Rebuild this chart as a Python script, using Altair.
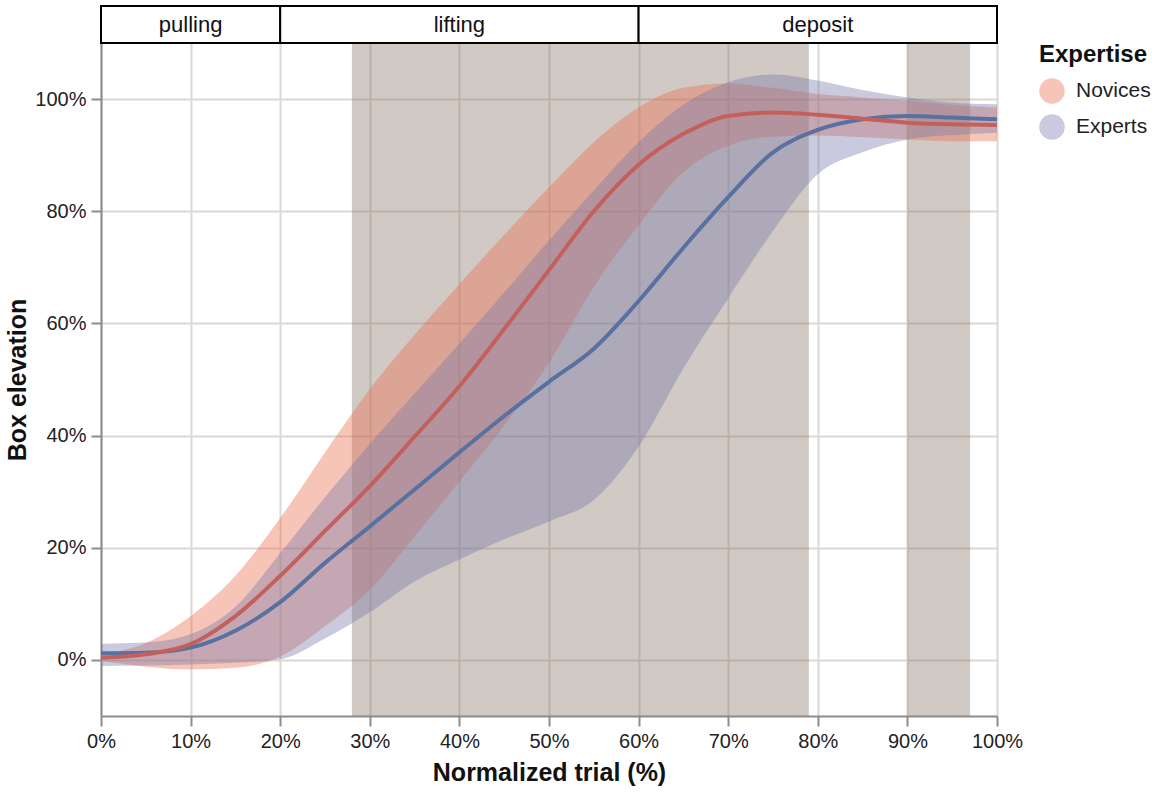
import altair as alt
import pandas as pd

# ---------------- data ----------------
x_pct = [0, 5, 10, 15, 20, 25, 30, 35, 40, 45, 50, 55, 60, 65, 70, 75, 80, 85, 90, 95, 100]

nov_mean = [0.4, 1.0, 2.8, 7.8, 15.0, 23.0, 31.0, 39.8, 48.8, 59.0, 69.5, 80.0, 88.3, 93.8, 97.0, 97.6, 97.2, 96.5, 95.8, 95.5, 95.4]
nov_hi   = [0.9, 3.0, 7.8, 15.0, 25.3, 37.0, 48.3, 58.0, 67.0, 75.8, 84.3, 92.3, 98.5, 102.0, 102.8, 102.0, 100.9, 100.3, 99.7, 99.0, 98.5]
nov_lo   = [-0.2, -1.2, -1.7, -1.4, 0.6, 6.0, 12.5, 22.0, 31.8, 41.8, 53.0, 66.5, 77.5, 87.0, 91.7, 93.3, 93.5, 93.2, 92.8, 92.5, 92.5]

exp_mean = [1.2, 1.3, 2.2, 5.2, 10.3, 17.3, 23.8, 30.4, 37.0, 43.5, 49.6, 55.5, 64.0, 73.5, 82.5, 90.5, 94.5, 96.4, 97.0, 96.7, 96.4]
exp_hi   = [2.9, 3.1, 4.6, 9.5, 19.0, 29.0, 38.5, 47.5, 56.4, 65.5, 74.8, 83.7, 92.3, 99.0, 103.0, 104.4, 103.3, 101.6, 100.3, 99.4, 99.1]
exp_lo   = [-1.1, -1.0, -0.8, -0.5, 0.1, 3.8, 8.5, 14.0, 17.9, 21.5, 24.7, 28.5, 38.0, 52.0, 64.5, 76.5, 86.6, 90.5, 92.8, 93.6, 94.0]

groups = ["Novices", "Experts"]

phase_names = ["pulling", "lifting", "deposit"]
phase_start = [0, 20, 60]
phase_end = [20, 60, 100]

shade_start = [28, 90]
shade_end = [79, 97]

# ---------------- tables ----------------
rows = []
for g, m, lo, hi in [("Novices", nov_mean, nov_lo, nov_hi), ("Experts", exp_mean, exp_lo, exp_hi)]:
    for xv, mv, lv, hv in zip(x_pct, m, lo, hi):
        rows.append({"x": xv, "group": g, "mean": mv, "lo": lv, "hi": hv})
df = pd.DataFrame(rows)

phases = pd.DataFrame({"phase": phase_names, "start": phase_start, "end": phase_end})
shades = pd.DataFrame({"start": shade_start, "end": shade_end})

# ---------------- styling ----------------
W, H = 896, 673
FONT = "Liberation Sans"

xscale = alt.Scale(domain=[0, 100], nice=False, zero=False)
yscale = alt.Scale(domain=[-10, 110], nice=False, zero=False)

x_axis = alt.Axis(values=list(range(0, 101, 10)), labelExpr="datum.value + '%'",
                  title="Normalized trial (%)", labelFlush=False, titlePadding=9)
y_axis = alt.Axis(values=[0, 20, 40, 60, 80, 100], labelExpr="datum.value + '%'",
                  title="Box elevation", labelFlush=False)

color_scale = alt.Scale(domain=groups, range=["#eb6e4e", "#787aaa"])
legend = alt.Legend(title="Expertise", orient="right", symbolType="circle", symbolSize=650,
                    symbolOpacity=0.4, symbolStrokeWidth=0, offset=42, rowPadding=10,
                    titlePadding=11, labelOffset=11)

X = alt.X("x:Q", scale=xscale, axis=x_axis)

shade = alt.Chart(shades).mark_rect(color="#8a786c", opacity=0.4).encode(
    x=alt.X("start:Q", scale=xscale, axis=x_axis),
    x2="end:Q",
    y=alt.value(0),
    y2=alt.value(H),
)

def band(g):
    return alt.Chart(df).transform_filter(alt.datum.group == g).mark_area(
        opacity=0.4, interpolate="monotone"
    ).encode(
        x=X,
        y=alt.Y("lo:Q", scale=yscale, axis=y_axis),
        y2="hi:Q",
        color=alt.Color("group:N", scale=color_scale, legend=legend),
    )

def line(g, c):
    return alt.Chart(df).transform_filter(alt.datum.group == g).mark_line(
        color=c, strokeWidth=4, interpolate="monotone"
    ).encode(
        x=X,
        y=alt.Y("mean:Q", scale=yscale, axis=y_axis),
    )

header_rect = alt.Chart(phases).mark_rect(fill="white", stroke="black", strokeWidth=2).encode(
    x=alt.X("start:Q", scale=xscale, axis=x_axis),
    x2="end:Q",
    y=alt.value(-37),
    y2=alt.value(0),
)
header_text = alt.Chart(phases).transform_calculate(mid="(datum.start + datum.end) / 2").mark_text(
    fontSize=22, baseline="middle", align="center", font=FONT, color="#111"
).encode(
    x=alt.X("mid:Q", scale=xscale, axis=x_axis),
    y=alt.value(-18.5),
    text="phase:N",
)

chart = alt.layer(
    shade,
    band("Novices"),
    band("Experts"),
    line("Experts", "#5871a0"),
    line("Novices", "#c4605c"),
    header_rect,
    header_text,
).properties(width=W, height=H).configure_view(stroke=None).configure_axis(
    domainColor="#8c8c8c", domainWidth=2, tickColor="#8c8c8c", tickWidth=2, tickSize=10,
    labelFont=FONT, labelFontSize=20, labelColor="#222", labelPadding=5,
    titleFont=FONT, titleFontSize=25, titleFontWeight="bold", titleColor="#111",
    gridColor="#dcd7d2", gridWidth=2,
).configure_legend(
    labelFont=FONT, labelFontSize=21, labelColor="#222",
    titleFont=FONT, titleFontSize=24, titleFontWeight="bold", titleColor="#111",
)

chart.save("out.html", embed_options={"renderer": "svg", "actions": False})
